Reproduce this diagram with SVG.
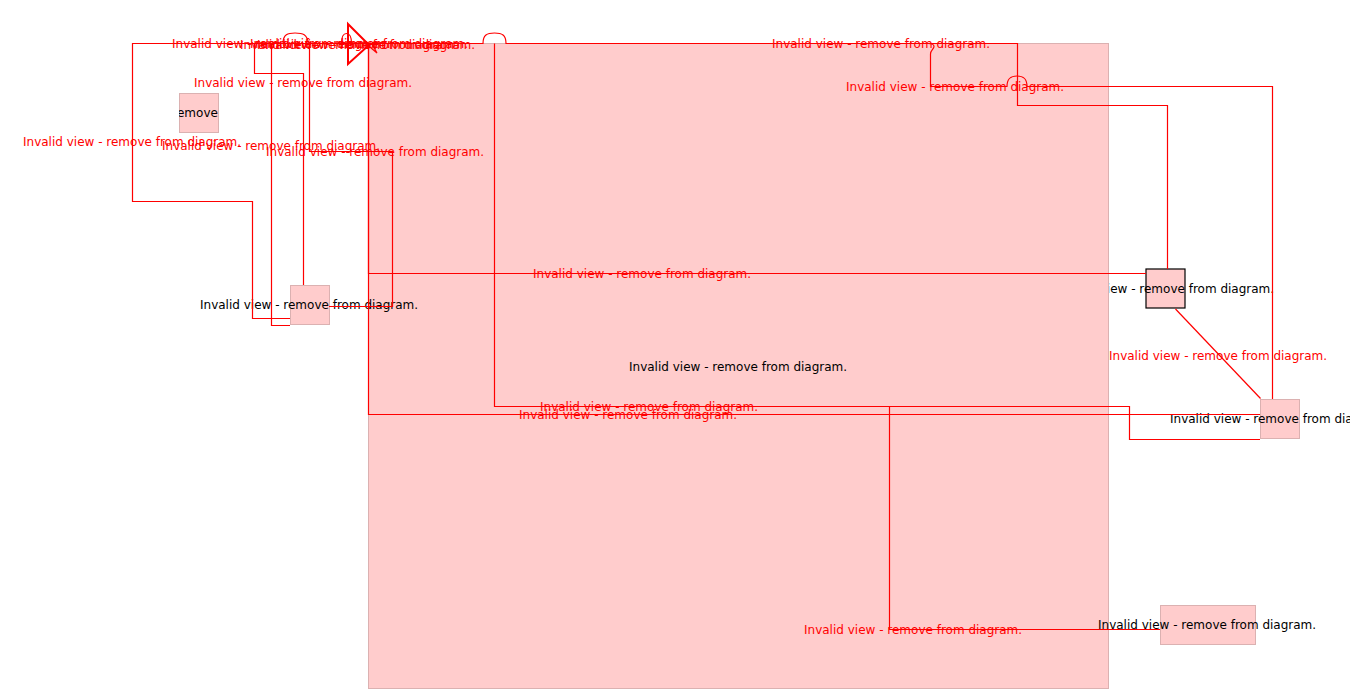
<svg xmlns="http://www.w3.org/2000/svg" width="1350" height="700" viewBox="0 0 1350 700">
<style>
  .node { fill: #ffcccc; stroke: #dbb1b1; stroke-width: 1; }
  .nlabel { font-family: "DejaVu Sans", "Liberation Sans", sans-serif; font-size: 12px; fill: #000000; }
  .elabel { font-family: "DejaVu Sans", "Liberation Sans", sans-serif; font-size: 12px; fill: #ff0000; }
  .edge { fill: none; stroke: #ff0000; stroke-width: 1.2; }
</style>
<defs>
  <clipPath id="clipA"><rect x="179" y="93" width="40" height="40"/></clipPath>
</defs>
<rect width="1350" height="700" fill="#ffffff"/>

<g id="nodeC">
  <rect x="1146" y="269" width="39" height="39" fill="#ffcccc" stroke="#000000" stroke-width="1.2"/>
  <text class="nlabel" x="1056" y="293">Invalid view - remove from diagram.</text>
</g>

<g id="container">
  <rect class="node" x="368.5" y="43.5" width="740" height="645"/>
  <text class="nlabel" x="629" y="370.5">Invalid view - remove from diagram.</text>
</g>

<g id="nodeA">
  <rect class="node" x="179.5" y="93.5" width="39" height="39"/>
  <text class="nlabel" x="89" y="117" clip-path="url(#clipA)">Invalid view - remove from diagram.</text>
</g>

<g id="nodeB">
  <rect class="node" x="290.5" y="285.5" width="39" height="39"/>
  <text class="nlabel" x="200" y="309">Invalid view - remove from diagram.</text>
</g>

<g id="nodeD">
  <rect class="node" x="1260.5" y="399.5" width="39" height="39"/>
  <text class="nlabel" x="1170" y="423">Invalid view - remove from diagram.</text>
</g>

<g id="nodeE">
  <rect class="node" x="1160.5" y="605.5" width="95" height="39"/>
  <text class="nlabel" x="1098" y="629">Invalid view - remove from diagram.</text>
</g>

<g id="connectors">
  <path class="edge" d="M290,318.5 H252.5 V201.5 H132.5 V43.5 H368"/>
  <path class="edge" d="M290,325.5 H271.5 V43.5 H368"/>
  <path class="edge" d="M303.5,285 V73.5 H254.5 V43.5 H283"/>
  <path class="edge" d="M329,306.5 H392.5 V151.5 H309.5 V43.5"/>
  <path class="edge" d="M283,43.5 C283,34 288,33 295,33 C303,33 307,34 308.5,43.5"/>
  <path class="edge" d="M1146,273.5 H368.5 V43.5"/>
  <path class="edge" d="M1260,414.5 H368.5 V43.5"/>
  <path class="edge" d="M1260,439.5 H1129.5 V406.5 H494.5 V43.5"/>
  <path class="edge" d="M1160,629.5 H889.5 V406.5"/>
  <path class="edge" d="M368,43.5 H483 C483,35 487,33 494.5,33 C502,33 506,35 506,43.5 H1017.5 V105.5 H1167.5 V269"/>
  <path class="edge" d="M1272.5,399 V86.5 H1027 C1027,78 1023,76 1017,76 C1011,76 1007,78 1007,86.5 H930.5 V54 C930.5,50 934,49 934,46.5 C934,44 931,43.5 928,43.5"/>
  <path class="edge" d="M1175.5,309 L1260.5,398.5"/>
  <path class="edge" d="M341.5,43.5 C341.5,36 344,33.5 346.5,33.5 C349,33.5 351.5,36 351.5,43.5"/>
  <polygon points="348,24 369,45 348,64" fill="none" stroke="#ff0000" stroke-width="2"/>
  <polyline points="364,42 377,53 372,44" fill="none" stroke="#ff0000" stroke-width="1.2"/>
</g>

<g id="edge-labels">
  <text class="elabel" x="172" y="47.5">Invalid view - remove from diagram.</text>
  <text class="elabel" x="240" y="48.5">Invalid view - remove from diagram.</text>
  <text class="elabel" x="250" y="47.5">Invalid view - remove from diagram.</text>
  <text class="elabel" x="257" y="49">Invalid view - remove from diagram.</text>
  <text class="elabel" x="194" y="86.5">Invalid view - remove from diagram.</text>
  <text class="elabel" x="23" y="145.5">Invalid view - remove from diagram.</text>
  <text class="elabel" x="162" y="149.5">Invalid view - remove from diagram.</text>
  <text class="elabel" x="266" y="155.5">Invalid view - remove from diagram.</text>
  <text class="elabel" x="533" y="277.5">Invalid view - remove from diagram.</text>
  <text class="elabel" x="540" y="411">Invalid view - remove from diagram.</text>
  <text class="elabel" x="519" y="418.5">Invalid view - remove from diagram.</text>
  <text class="elabel" x="772" y="47.5">Invalid view - remove from diagram.</text>
  <text class="elabel" x="846" y="90.5">Invalid view - remove from diagram.</text>
  <text class="elabel" x="1109" y="359.5">Invalid view - remove from diagram.</text>
  <text class="elabel" x="804" y="633.5">Invalid view - remove from diagram.</text>
</g>
</svg>
